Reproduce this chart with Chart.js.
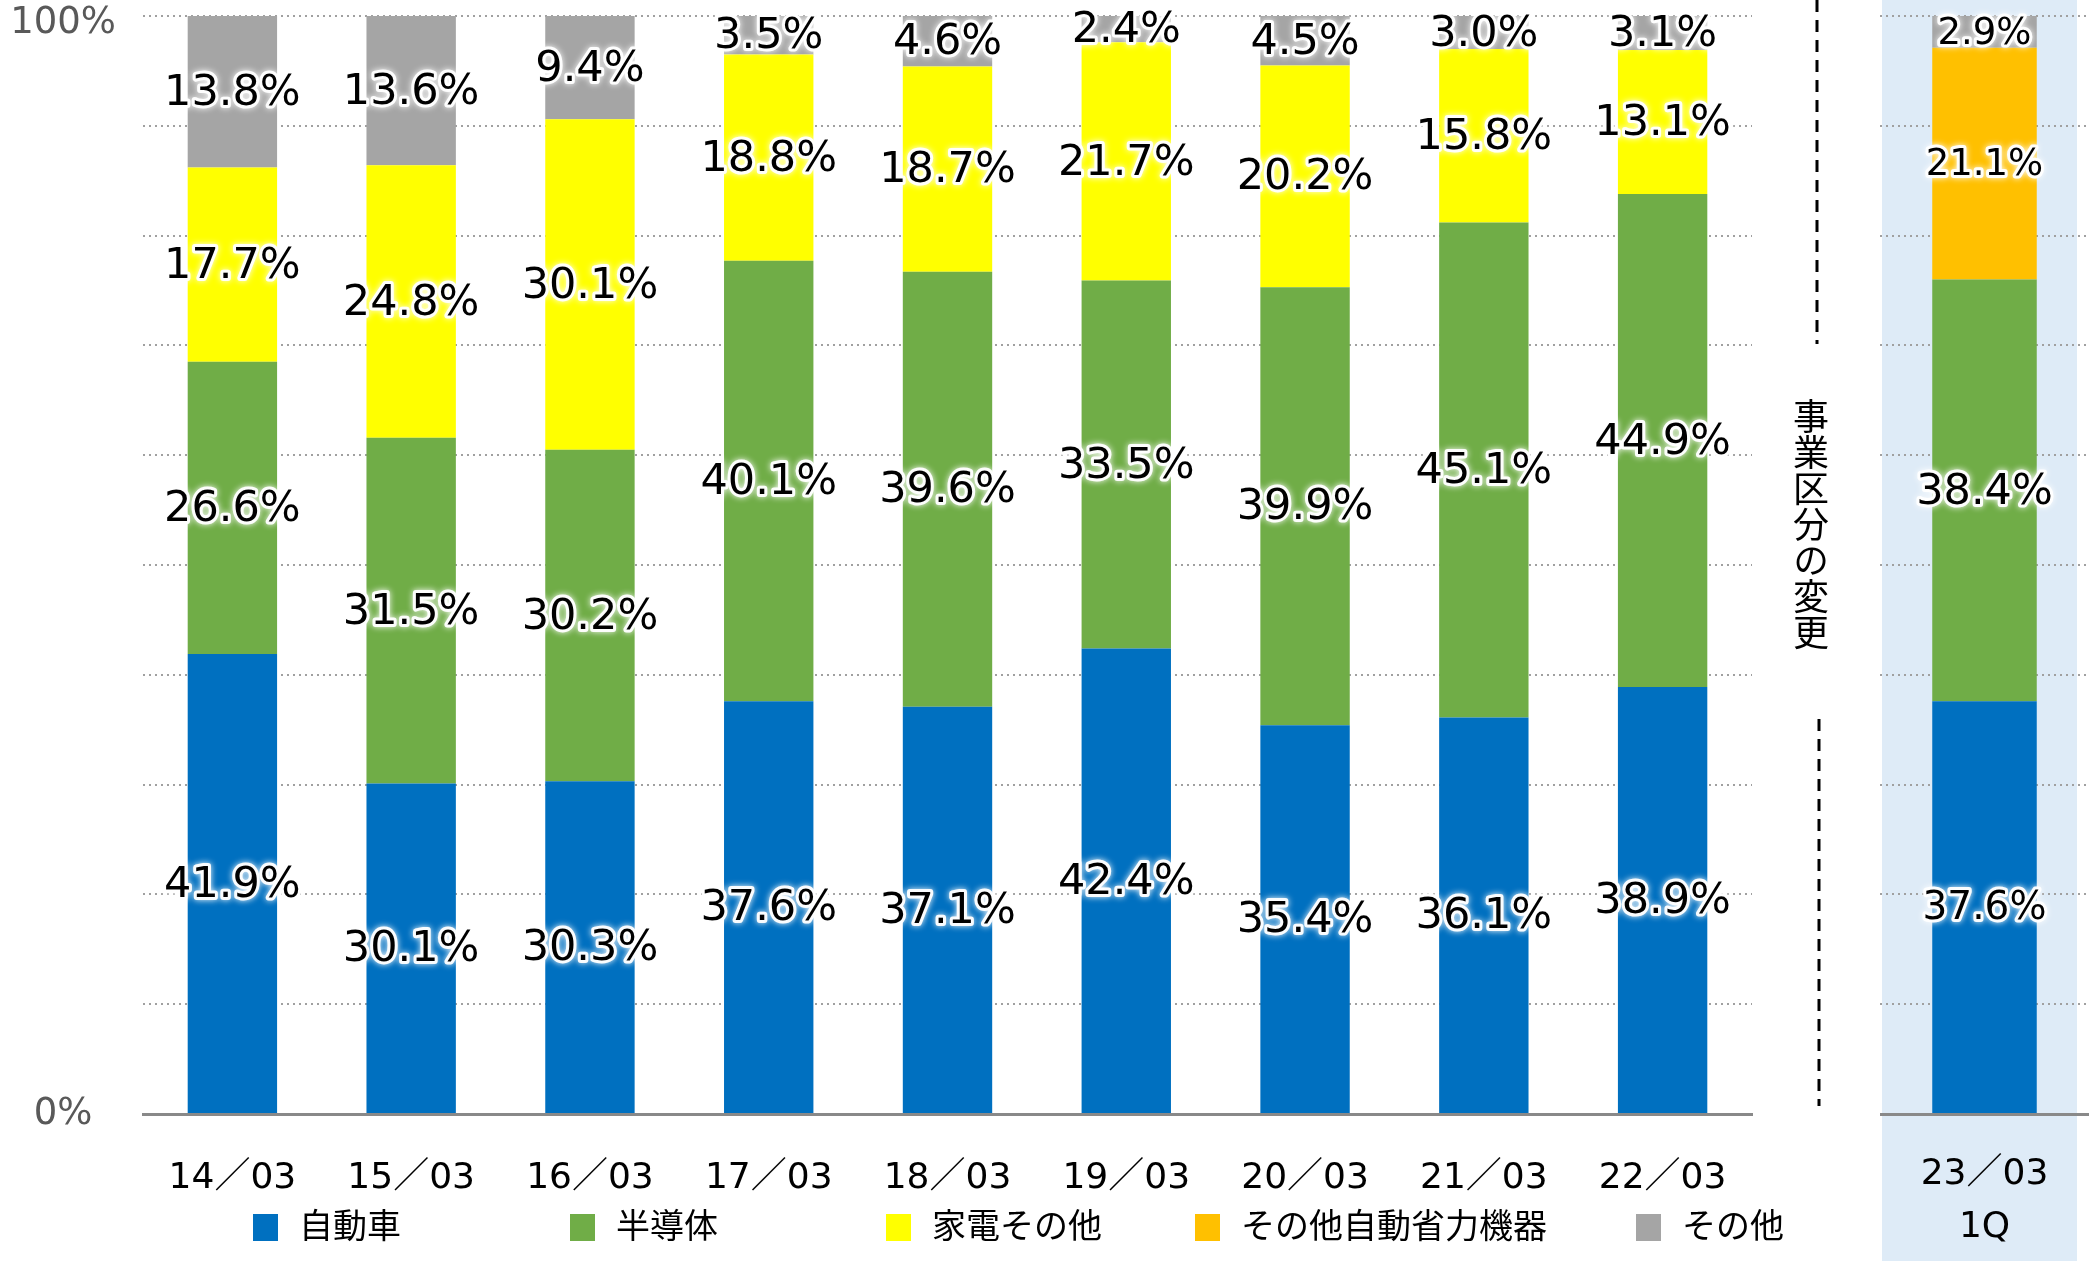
<!DOCTYPE html>
<html><head><meta charset="utf-8">
<script src="https://cdn.jsdelivr.net/npm/chart.js@4.4.1/dist/chart.umd.min.js"></script>
<style>
html,body{margin:0;padding:0;background:#fff;width:2089px;height:1261px;overflow:hidden;}
body{position:relative;font-family:'Noto Sans CJK JP','DejaVu Sans',sans-serif;}
#bg{position:absolute;left:1882px;top:0;width:195px;height:1261px;background:#DEEBF7;}
#main{position:absolute;left:0;top:-30px;}
#side{position:absolute;left:1880px;top:-30px;}
#deco{position:absolute;left:0;top:0;}
#vtext{position:absolute;left:1793px;top:398px;writing-mode:vertical-rl;font-size:36px;line-height:36px;color:#000;font-family:'Noto Sans CJK JP',sans-serif;}
.lg{position:absolute;top:1214px;height:28px;font-size:34px;line-height:28px;color:#000;white-space:nowrap;font-family:'Noto Sans CJK JP',sans-serif;}
.lg i{position:absolute;left:0;top:0;width:25px;height:27px;}
.lg span{position:absolute;left:46px;top:-4px;}
</style>
</head><body>
<div id="bg"></div>
<canvas id="main" width="1760" height="1291" style="width:1760px;height:1291px"></canvas>
<canvas id="side" width="209" height="1291" style="width:209px;height:1291px"></canvas>
<svg id="deco" width="2089" height="1261">
  <line x1="1817" y1="0" x2="1817" y2="344" stroke="#000" stroke-width="3" stroke-dasharray="12 8"/>
  <line x1="1819" y1="719" x2="1819" y2="1106" stroke="#000" stroke-width="3" stroke-dasharray="12 8"/>
</svg>
<div id="vtext">事業区分の変更</div>
<div id="legend"></div>
<script>
// ---- data ----
const categories = ['14／03','15／03','16／03','17／03','18／03','19／03','20／03','21／03','22／03',['23／03','1Q']];
const seriesNames = ['自動車','半導体','家電その他','その他自動省力機器','その他'];
const seriesColors = ['#0070C0','#70AD47','#FFFF00','#FFC000','#A5A5A5'];
const automotive   = [41.9, 30.1, 30.3, 37.6, 37.1, 42.4, 35.4, 36.1, 38.9, 37.6];
const semiconductor= [26.6, 31.5, 30.2, 40.1, 39.6, 33.5, 39.9, 45.1, 44.9, 38.4];
const appliances   = [17.7, 24.8, 30.1, 18.8, 18.7, 21.7, 20.2, 15.8, 13.1, 0];
const automation   = [0, 0, 0, 0, 0, 0, 0, 0, 0, 21.1];
const others       = [13.8, 13.6, 9.4, 3.5, 4.6, 2.4, 4.5, 3.0, 3.1, 2.9];
const yTickLabels  = {0:'0%', 100:['', '100%']};
const seriesValues = [automotive, semiconductor, appliances, automation, others];

// ---- label plugin ----
const segLabels = {
  id:'segLabels',
  afterDatasetsDraw(chart, args, opts){
    const ctx = chart.ctx;
    chart.data.datasets.forEach((ds, di) => {
      const meta = chart.getDatasetMeta(di);
      if (meta.hidden) return;
      meta.data.forEach((bar, i) => {
        const v = ds.data[i];
        if (!v) return;
        const p = bar.getProps(['x','y','base'], true);
        const cy = (p.y + p.base) / 2 + 2;
        const size = (opts.sizes && opts.sizes[di]) || opts.size || 41;
        const txt = v.toFixed(1) + '%';
        ctx.save();
        ctx.font = size + "px 'DejaVu Sans'";
        ctx.textAlign = 'center';
        ctx.textBaseline = 'middle';
        ctx.lineJoin = 'round';
        ctx.shadowColor = 'rgba(255,255,255,1)';
        ctx.shadowBlur = 6;
        ctx.strokeStyle = 'rgba(255,255,255,0.95)';
        ctx.lineWidth = 6;
        ctx.strokeText(txt, p.x, cy);
        ctx.shadowBlur = 0;
        ctx.fillStyle = '#000';
        ctx.fillText(txt, p.x, cy);
        ctx.restore();
      });
    });
  }
};

function makeDatasets(from, to){
  return seriesNames.map((n, k) => ({
    label: n,
    data: seriesValues[k].slice(from, to),
    backgroundColor: seriesColors[k],
    borderWidth: 0,
    categoryPercentage: 0.5,
    barPercentage: 1.0
  }));
}

const tickFont = {family:"'DejaVu Sans','Noto Sans CJK JP'", size:36};

function makeOptions(isMain){
  return {
    responsive:false,
    animation:false,
    devicePixelRatio:1,
    layout:{padding:{top:46, right:isMain?8:0, bottom:0, left:0}},
    plugins:{
      legend:{display:false},
      tooltip:{enabled:false},
      segLabels: isMain ? {size:43} : {sizes:[39,43,37,37,37]}
    },
    scales:{
      x:{
        stacked:true,
        grid:{display:false},
        border:{display:true, color:'#898989', width:3},
        ticks:{font:Object.assign({}, tickFont, {lineHeight:1.45}), color:'#000', padding:isMain?31:27, maxRotation:0, autoSkip:false},
        afterFit(s){ s.height = 147; }
      },
      y:{
        stacked:true,
        min:0, max:100,
        grid:{color:'#a0a0a0', lineWidth:2, drawTicks:false},
        border:{display:false, dash:[2,4]},
        ticks:{
          display:isMain,
          stepSize:10,
          padding:27,
          crossAlign:'center',
          color:'#595959',
          font:{family:"'DejaVu Sans'", size:37, lineHeight:0.4},
          callback:(v) => (yTickLabels[v] !== undefined ? yTickLabels[v] : '')
        },
        afterFit(s){ s.width = isMain ? 143 : 0; }
      }
    }
  };
}

new Chart(document.getElementById('main'), {
  type:'bar',
  data:{labels:categories.slice(0,9), datasets:makeDatasets(0,9)},
  options:makeOptions(true),
  plugins:[segLabels]
});
new Chart(document.getElementById('side'), {
  type:'bar',
  data:{labels:categories.slice(9), datasets:makeDatasets(9,10)},
  options:makeOptions(false),
  plugins:[segLabels]
});

// ---- legend (HTML) ----
const legendX = [253, 570, 886, 1195, 1636];
const lg = document.getElementById('legend');
seriesNames.forEach((n, k) => {
  const d = document.createElement('div');
  d.className = 'lg';
  d.style.left = legendX[k] + 'px';
  d.innerHTML = '<i style="background:' + seriesColors[k] + '"></i><span>' + n + '</span>';
  lg.appendChild(d);
});
</script>
</body></html>
